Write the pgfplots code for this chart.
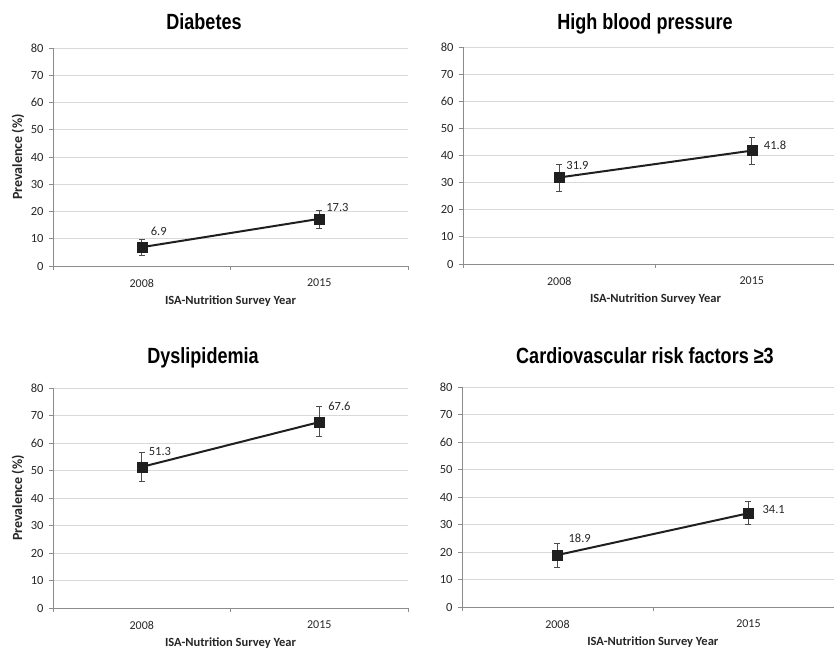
\documentclass[border=0pt]{standalone}
\usepackage{fontspec}
\setmainfont{Carlito}
\IfFontExistsTF{Liberation Sans Narrow}{\newfontfamily\titlefont{Liberation Sans Narrow}}{\newfontfamily\titlefont{Liberation Sans}[FakeStretch=0.82]}
\usepackage{pgfplots}
\pgfplotsset{compat=1.18}
\usepackage{pgfplotstable}
\definecolor{axisgray}{HTML}{8C8C8C}
\definecolor{gridgray}{HTML}{D9D9D9}
\definecolor{ticktext}{HTML}{262626}

\pgfplotstableread{
x y ep em dx dy lab
0.5 6.9 3.0 3.1 9 16 6.9
1.5 17.3 3.1 3.4 7 11 17.3
}\diab
\pgfplotstableread{
x y ep em dx dy lab
0.5 31.9 5.0 5.1 7 12 31.9
1.5 41.8 4.8 4.9 12 5 41.8
}\hbp
\pgfplotstableread{
x y ep em dx dy lab
0.5 51.3 5.4 5.3 7 15 51.3
1.5 67.6 5.8 5.0 9 16 67.6
}\dysl
\pgfplotstableread{
x y ep em dx dy lab
0.5 18.9 4.3 4.5 11 17 18.9
1.5 34.1 4.3 4.2 14 4 34.1
}\cvrf

\pgfplotsset{
  panel/.style={
    scale only axis,
    /pgf/number format/assume math mode=true,
    xmin=0, ymin=0, ymax=80,
    ytick={0,10,...,80},
    axis lines*=left,
    axis line style={draw=axisgray, line width=0.8pt},
    xtick={0,1,2}, xticklabels={},
    extra x ticks={0.5,1.5}, extra x tick labels={2008,2015},
    extra x tick style={major tick length=0pt, tick label style={anchor=center, yshift=-17pt}},
    tick align=outside, major tick length=4pt,
    tick style={draw=axisgray, line width=0.8pt},
    ymajorgrids, grid style={draw=gridgray, line width=0.6pt},
    xticklabel style={font=\fontsize{12}{12}\selectfont, text=ticktext},
    yticklabel style={font=\fontsize{12.5}{12.5}\selectfont, text=ticktext, anchor=east, xshift=-2pt},
    xlabel style={font=\bfseries\fontsize{12.5}{12.5}\selectfont, text=ticktext},
    ylabel style={font=\bfseries\fontsize{14}{14}\selectfont, text=ticktext},
    xlabel={ISA-Nutrition Survey Year},
    clip=false,
  },
  series/.style={
    color=black!88, line width=2pt,
    mark=square*, mark size=5pt, mark options={line width=0.3pt, fill=black!88, draw=black!88},
    error bars/y dir=both, error bars/y explicit,
    error bars/error bar style={line width=0.7pt, draw=black!70},
    error bars/error mark options={rotate=90, line width=0.7pt, mark size=3pt, draw=black!70},
    nodes near coords, point meta=explicit symbolic,
    visualization depends on={\thisrow{dx} \as \dx},
    visualization depends on={\thisrow{dy} \as \dy},
    every node near coord/.append style={anchor=west, xshift=\dx pt, yshift=\dy pt,
      font=\fontsize{12.5}{12.5}\selectfont, text=ticktext, inner sep=0pt},
  },
}

\begin{document}
\begin{tikzpicture}
\useasboundingbox (0,0) rectangle (834pt,650pt);

\node[font=\titlefont\bfseries\fontsize{22}{22}\selectfont, anchor=base] at (204pt,620pt) {Diabetes};
\node[font=\titlefont\bfseries\fontsize{22}{22}\selectfont, anchor=base] at (645pt,620pt) {High blood pressure};
\node[font=\titlefont\bfseries\fontsize{22}{22}\selectfont, anchor=base] at (203pt,286pt) {Dyslipidemia};
\node[font=\titlefont\bfseries\fontsize{22}{22}\selectfont, anchor=base] at (645pt,286pt) {Cardiovascular risk factors ≥3};

% Panel 1
\begin{axis}[panel, at={(53pt,384pt)}, anchor=south west, width=355pt, height=218pt, xmax=2,
  ylabel={Prevalence (\%)},
  ylabel style={at={([xshift=-35pt]axis description cs:0,0.5)}, anchor=center},
  xlabel style={at={([yshift=-35pt]axis description cs:0.5,0)}, anchor=center}]
\addplot[series] table[x=x, y=y, y error plus=ep, y error minus=em, meta=lab] {\diab};
\end{axis}

% Panel 2
\begin{axis}[panel, at={(463pt,386pt)}, anchor=south west, width=371pt, height=217pt, xmax=1.927,
  xlabel style={at={([yshift=-35pt]axis description cs:0.519,0)}, anchor=center}]
\addplot[series] table[x=x, y=y, y error plus=ep, y error minus=em, meta=lab] {\hbp};
\end{axis}

% Panel 3
\begin{axis}[panel, at={(53pt,42pt)}, anchor=south west, width=355pt, height=220pt, xmax=2,
  ylabel={Prevalence (\%)},
  ylabel style={at={([xshift=-35pt]axis description cs:0,0.5)}, anchor=center},
  xlabel style={at={([yshift=-35pt]axis description cs:0.5,0)}, anchor=center}]
\addplot[series] table[x=x, y=y, y error plus=ep, y error minus=em, meta=lab] {\dysl};
\end{axis}

% Panel 4
\begin{axis}[panel, at={(462pt,43pt)}, anchor=south west, width=372pt, height=220pt, xmax=1.948,
  xlabel style={at={([yshift=-35pt]axis description cs:0.513,0)}, anchor=center}]
\addplot[series] table[x=x, y=y, y error plus=ep, y error minus=em, meta=lab] {\cvrf};
\end{axis}
\end{tikzpicture}
\end{document}
